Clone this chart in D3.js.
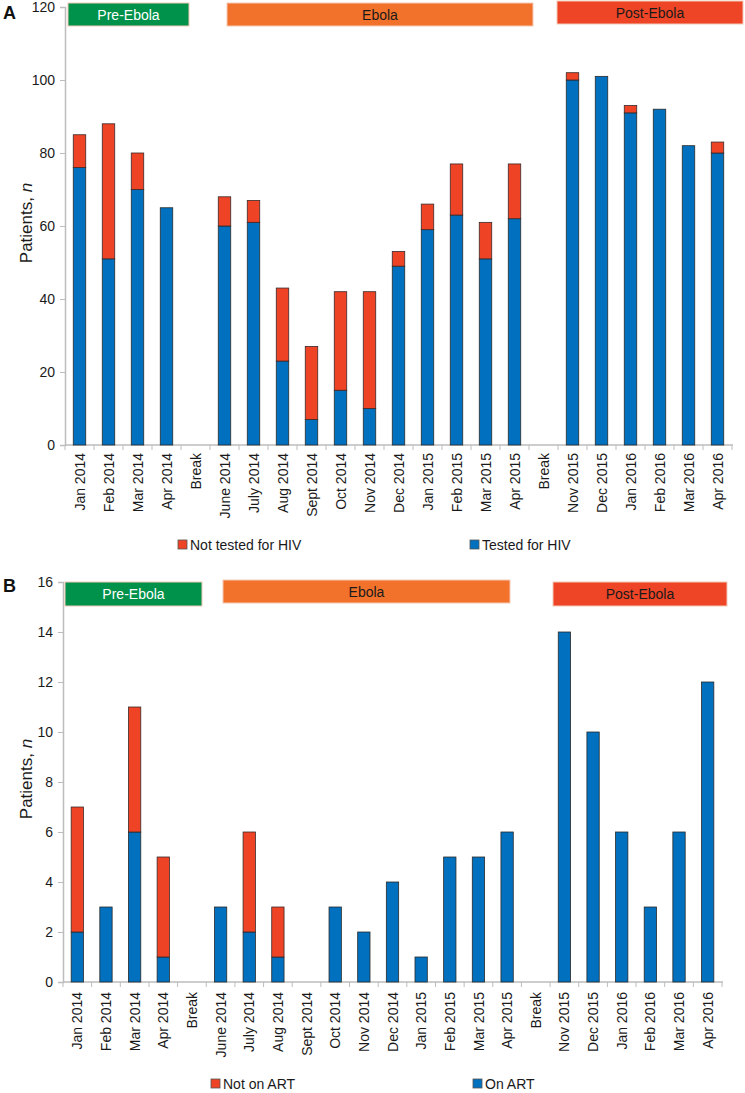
<!DOCTYPE html>
<html>
<head>
<meta charset="utf-8">
<script src="https://cdn.jsdelivr.net/npm/d3@7/dist/d3.min.js"></script>
<style>
  html, body { margin: 0; padding: 0; background: #fff; }
  svg { display: block; font-family: "Liberation Sans", Arial, sans-serif; }
</style>
</head>
<body>
<svg id="chart" width="745" height="1093"></svg>
<script>
// ---------------- DATA ----------------
const categories = ["Jan 2014","Feb 2014","Mar 2014","Apr 2014","Break","June 2014","July 2014","Aug 2014","Sept 2014","Oct 2014","Nov 2014","Dec 2014","Jan 2015","Feb 2015","Mar 2015","Apr 2015","Break","Nov 2015","Dec 2015","Jan 2016","Feb 2016","Mar 2016","Apr 2016"];

// Panel A
const testedHIV    = [76, 51, 70, 65, 0, 60, 61, 23, 7, 15, 10, 49, 59, 63, 51, 62, 0, 100, 101, 91, 92, 82, 80];
const notTestedHIV = [ 9, 37, 10,  0, 0,  8,  6, 20, 20, 27, 32, 4,  7, 14, 10, 15, 0,   2,   0,  2,  0,  0,  3];
const ticksA = [0, 20, 40, 60, 80, 100, 120];

// Panel B
const onART    = [2, 3, 6, 1, 0, 3, 2, 1, 0, 3, 2, 4, 1, 5, 5, 6, 0, 14, 10, 6, 3, 6, 12];
const notOnART = [5, 0, 5, 4, 0, 0, 4, 2, 0, 0, 0, 0, 0, 0, 0, 0, 0,  0,  0, 0, 0, 0,  0];
const ticksB = [0, 2, 4, 6, 8, 10, 12, 14, 16];

const phases = ["Pre-Ebola", "Ebola", "Post-Ebola"];
const legendA = ["Not tested for HIV", "Tested for HIV"];
const legendB = ["Not on ART", "On ART"];

// ---------------- STYLE / LAYOUT ----------------
const BLUE = "#0070BF", RED = "#EE4324";
const phaseFill = ["#00924A", "#F3722B", "#EE4526"];
const phaseText = ["#ffffff", "#1a1a1a", "#1a1a1a"];
const AXIS = "#BDBDBD";

const panels = [
  {
    letter: "A", bottomSeries: testedHIV, topSeries: notTestedHIV, ticks: ticksA, yMax: 120,
    left: 65, right: 732, top: 7, bottom: 445, labelEnd: 453,
    legend: legendA, legendY: 545, legendX: [178, 470],
    letterPos: [3, 19],
    boxes: [[68, 189, 3, 26], [227, 533, 3, 26], [557, 743, 1, 24]]
  },
  {
    letter: "B", bottomSeries: onART, topSeries: notOnART, ticks: ticksB, yMax: 16,
    left: 63, right: 722, top: 582, bottom: 982, labelEnd: 992,
    legend: legendB, legendY: 1084, legendX: [211, 473],
    letterPos: [3, 592],
    boxes: [[65, 202, 582, 606], [223, 510, 580, 603], [553, 727, 582, 606]]
  }
];

const svg = d3.select("#chart");

panels.forEach(p => {
  const g = svg.append("g");
  const idx = d3.range(categories.length);
  const x = d3.scaleBand().domain(idx).range([p.left, p.right]).paddingInner(0).paddingOuter(0);
  const y = d3.scaleLinear().domain([0, p.yMax]).range([p.bottom, p.top]);
  const bw = x.bandwidth() * 0.43;

  // Y axis
  const yAxis = d3.axisLeft(y).tickValues(p.ticks).tickSize(5).tickPadding(5);
  const ya = g.append("g").attr("transform", `translate(${p.left},0)`).call(yAxis);
  ya.attr("font-family", "Liberation Sans, Arial, sans-serif");
  ya.select(".domain").attr("stroke", AXIS).attr("stroke-width", 1.5);
  ya.selectAll(".tick line").attr("stroke", AXIS).attr("stroke-width", 1);
  ya.selectAll(".tick text").attr("font-size", 14).attr("fill", "#1a1a1a");

  // X axis line and boundary ticks
  g.append("line").attr("x1", p.left).attr("x2", p.right + 1)
    .attr("y1", p.bottom).attr("y2", p.bottom)
    .attr("stroke", AXIS).attr("stroke-width", 1.5);
  const bounds = idx.map(i => x(i)).concat([p.right]);
  g.selectAll(".xtick").data(bounds).enter().append("line")
    .attr("x1", d => d).attr("x2", d => d)
    .attr("y1", p.bottom).attr("y2", p.bottom + 5)
    .attr("stroke", AXIS).attr("stroke-width", 1);

  // Category labels
  g.selectAll(".xlab").data(idx).enter().append("text")
    .attr("transform", i => `translate(${x(i) + x.bandwidth() / 2},${p.labelEnd}) rotate(-90)`)
    .attr("text-anchor", "end").attr("dy", "0.36em")
    .attr("font-size", 14).attr("fill", "#1a1a1a")
    .text(i => categories[i]);

  // Bars: bottom series
  g.selectAll(".b1").data(idx.filter(i => p.bottomSeries[i] > 0)).enter().append("rect")
    .attr("x", i => x(i) + (x.bandwidth() - bw) / 2)
    .attr("width", bw)
    .attr("y", i => y(p.bottomSeries[i]))
    .attr("height", i => y(0) - y(p.bottomSeries[i]))
    .attr("fill", BLUE).attr("stroke", "#2a2a2a").attr("stroke-width", 0.8);
  // Bars: top series
  g.selectAll(".b2").data(idx.filter(i => p.topSeries[i] > 0)).enter().append("rect")
    .attr("x", i => x(i) + (x.bandwidth() - bw) / 2)
    .attr("width", bw)
    .attr("y", i => y(p.bottomSeries[i] + p.topSeries[i]))
    .attr("height", i => y(p.bottomSeries[i]) - y(p.bottomSeries[i] + p.topSeries[i]))
    .attr("fill", RED).attr("stroke", "#3a2a2a").attr("stroke-width", 0.8);

  // Y title
  const cy = (p.top + p.bottom) / 2 - 3;
  const yt = g.append("text")
    .attr("transform", `translate(32,${cy}) rotate(-90)`)
    .attr("text-anchor", "middle").attr("font-size", 17).attr("fill", "#1a1a1a");
  yt.append("tspan").text("Patients, ");
  yt.append("tspan").attr("font-style", "italic").text("n");

  // Panel letter
  g.append("text").attr("x", p.letterPos[0]).attr("y", p.letterPos[1])
    .attr("font-size", 18).attr("font-weight", "bold").attr("fill", "#111")
    .text(p.letter);

  // Phase boxes
  p.boxes.forEach((b, i) => {
    g.append("rect").attr("x", b[0]).attr("y", b[2])
      .attr("width", b[1] - b[0]).attr("height", b[3] - b[2])
      .attr("fill", phaseFill[i]).attr("stroke", "#f2c9b8").attr("stroke-width", 1);
    g.append("text").attr("x", (b[0] + b[1]) / 2).attr("y", (b[2] + b[3]) / 2)
      .attr("dy", "0.36em").attr("text-anchor", "middle")
      .attr("font-size", 14).attr("fill", phaseText[i])
      .text(phases[i]);
  });

  // Legend
  const lcol = [RED, BLUE];
  p.legend.forEach((t, i) => {
    g.append("rect").attr("x", p.legendX[i]).attr("y", p.legendY - 5)
      .attr("width", 9).attr("height", 9)
      .attr("fill", lcol[i]).attr("stroke", "#555").attr("stroke-width", 0.8);
    g.append("text").attr("x", p.legendX[i] + 12).attr("y", p.legendY)
      .attr("dy", "0.36em").attr("font-size", 14).attr("fill", "#1a1a1a")
      .text(t);
  });
});
</script>
</body>
</html>
